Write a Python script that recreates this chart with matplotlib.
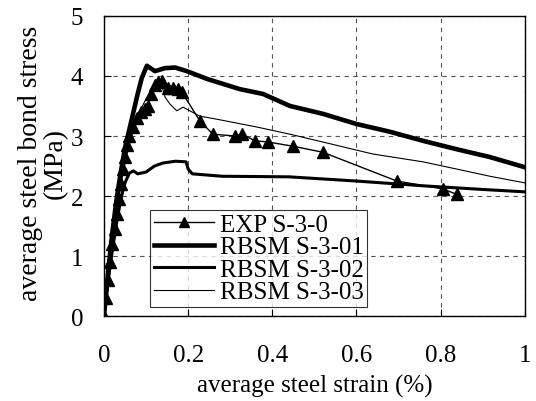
import numpy as np
import matplotlib
matplotlib.use("Agg")
import matplotlib.pyplot as plt

plt.rcParams['font.family'] = ['Liberation Serif', 'DejaVu Serif']

# EXP S-3-0 (measured points)
exp_x = [0, 0.005, 0.01, 0.015, 0.02, 0.025, 0.03, 0.035, 0.04, 0.045, 0.05, 0.055,
         0.06, 0.068, 0.078, 0.088, 0.097, 0.104, 0.112, 0.122, 0.128, 0.137, 0.152,
         0.164, 0.176, 0.185, 0.228, 0.259, 0.311, 0.328, 0.359, 0.39, 0.449, 0.52,
         0.696, 0.805, 0.838]
exp_y = [0, 0.3, 0.6, 0.9, 1.2, 1.45, 1.7, 1.95, 2.2, 2.45, 2.65, 2.85,
         3.0, 3.15, 3.3, 3.4, 3.45, 3.5, 3.7, 3.85, 3.9, 3.92, 3.8,
         3.8, 3.78, 3.73, 3.25, 3.03, 3.0, 3.03, 2.92, 2.9, 2.83, 2.73,
         2.25, 2.12, 2.03]

# RBSM S-3-01
s01_x = [0, 0.01, 0.02, 0.03, 0.04, 0.05, 0.06, 0.07, 0.08, 0.09, 0.102, 0.121,
         0.145, 0.169, 0.197, 0.245, 0.323, 0.378, 0.442, 0.52, 0.60, 0.68, 0.758,
         0.838, 0.917, 1.0]
s01_y = [0, 0.75, 1.4, 1.95, 2.4, 2.8, 3.1, 3.4, 3.7, 3.97, 4.17, 4.08,
         4.13, 4.14, 4.08, 3.95, 3.78, 3.7, 3.5, 3.37, 3.2, 3.07, 2.92,
         2.78, 2.65, 2.48]

# RBSM S-3-02
s02_x = [0, 0.01, 0.02, 0.03, 0.04, 0.05, 0.06, 0.07, 0.08, 0.1, 0.12, 0.14,
         0.17, 0.195, 0.2, 0.21, 0.28, 0.44, 0.6, 0.76, 0.9, 1.0]
s02_y = [0, 0.6, 1.1, 1.55, 1.95, 2.22, 2.38, 2.42, 2.37, 2.4, 2.5, 2.55,
         2.58, 2.57, 2.45, 2.37, 2.33, 2.32, 2.25, 2.17, 2.11, 2.07]

# RBSM S-3-03
s03_x = [0, 0.01, 0.02, 0.03, 0.04, 0.05, 0.06, 0.07, 0.08, 0.09, 0.1, 0.114,
         0.128, 0.137, 0.145, 0.157, 0.173, 0.188, 0.204, 0.228, 0.268, 0.363,
         0.442, 0.52, 0.639, 0.758, 0.838, 0.917, 1.0]
s03_y = [0, 0.65, 1.25, 1.75, 2.2, 2.55, 2.85, 3.1, 3.3, 3.48, 3.62, 3.75,
         3.88, 3.85, 3.65, 3.53, 3.42, 3.48, 3.42, 3.33, 3.28, 3.15,
         3.03, 2.9, 2.7, 2.57, 2.45, 2.33, 2.22]

xticks = [0, 0.2, 0.4, 0.6, 0.8, 1]
xtick_labels = ["0", "0.2", "0.4", "0.6", "0.8", "1"]
yticks = [0, 1, 2, 3, 4, 5]

fig = plt.figure(figsize=(5.36, 4.02), dpi=100)
ax = fig.add_axes([0.194, 0.211, 0.785, 0.747])

ax.plot(exp_x, exp_y, color='black', lw=1.0, marker='^', ms=9,
        label='EXP S-3-0')
ax.plot(s01_x, s01_y, color='black', lw=3.3, label='RBSM S-3-01')
ax.plot(s02_x, s02_y, color='black', lw=2.2, label='RBSM S-3-02')
ax.plot(s03_x, s03_y, color='black', lw=0.8, label='RBSM S-3-03')

ax.set_xlim(0, 1)
ax.set_ylim(0, 5)
ax.set_xticks(xticks)
ax.set_xticklabels(xtick_labels)
ax.set_yticks(yticks)
ax.grid(True, color='#555555', linestyle=(0, (4, 4)), linewidth=0.8)
ax.tick_params(direction='in', length=5, width=0.8, labelsize=18)
ax.tick_params(axis='x', pad=20)
ax.tick_params(axis='y', pad=15)
for s in ax.spines.values():
    s.set_linewidth(1.0)

ax.set_xlabel('average steel strain (%)', fontsize=18, labelpad=6)
ax.set_ylabel('average steel bond stress\n(MPa)', fontsize=20,
              linespacing=1.0)
ax.yaxis.set_label_coords(-0.085, 0.513)

leg = ax.legend(loc='lower left', bbox_to_anchor=(0.109, 0.03), fontsize=18,
                frameon=True, fancybox=False, edgecolor='black',
                borderpad=0.15, labelspacing=0.0, handlelength=2.4,
                handletextpad=0.25, borderaxespad=0, markerscale=0.8)
leg.get_frame().set_linewidth(0.8)

fig.savefig('out.png', dpi=100)
